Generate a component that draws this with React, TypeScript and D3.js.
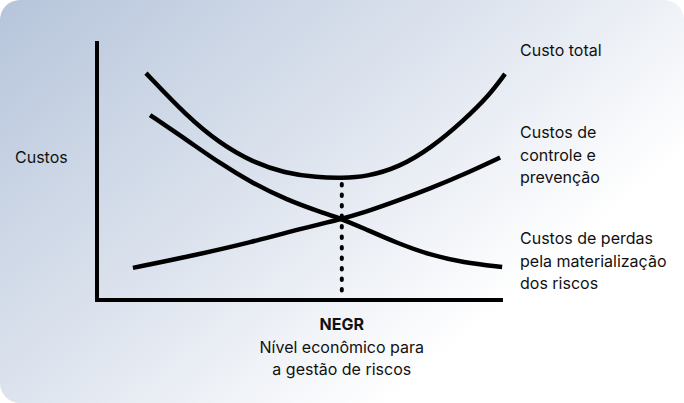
import React, { useEffect, useRef } from 'react';
import * as d3 from 'd3';

// level of risk management effort (0..100) and costs (0..100)
const totalLevels = [12, 22, 30, 38, 46, 54, 60, 66, 74, 82, 90, 96, 100];
const totalCosts = [87.6, 71.0, 60.6, 53.3, 49.0, 47.3, 47.1, 47.6, 51.2, 58.8, 69.5, 78.8, 87.3];

const lossLevels = [13, 22, 30, 38, 46.6, 54.7, 60, 65.2, 73.5, 81.6, 89.7, 99.3];
const lossCosts = [71.4, 61.8, 52.9, 45.2, 38.6, 34.0, 31.3, 27.8, 22.0, 17.4, 14.5, 12.7];

const controlLevels = [8.8, 22, 38.2, 50.5, 60, 65.2, 73.5, 81.6, 89.7, 98.8];
const controlCosts = [12.4, 16.6, 22.4, 27.8, 31.3, 33.6, 38.2, 43.0, 48.3, 55.0];

const optimumLevel = 60;
const optimumTotal = 47.1;

const seriesLabels = [
  { lines: ['Custo total'], y: 56 },
  { lines: ['Custos de', 'controle e', 'prevenção'], y: 138 },
  { lines: ['Custos de perdas', 'pela materialização', 'dos riscos'], y: 244 },
];
const xLabelBold = 'NEGR';
const xLabelLines = ['Nível econômico para', 'a gestão de riscos'];
const yLabel = 'Custos';

const App = () => {
  const svgRef = useRef<SVGSVGElement>(null);

  useEffect(() => {
    document.body.style.margin = '0';
    const width = 684;
    const height = 403;
    const svg = d3.select(svgRef.current).attr('width', width).attr('height', height);
    svg.selectAll('*').remove();

    const font = 'Inter, "Noto Sans", sans-serif';

    // Background gradient card
    const defs = svg.append('defs');
    const grad = defs.append('linearGradient')
      .attr('id', 'bg')
      .attr('x1', '0').attr('y1', '0')
      .attr('x2', '1').attr('y2', '0.7');
    grad.append('stop').attr('offset', '0').attr('stop-color', '#b6c5db');
    grad.append('stop').attr('offset', '0.5').attr('stop-color', '#dfe5ef');
    grad.append('stop').attr('offset', '0.85').attr('stop-color', '#ffffff');

    svg.append('rect')
      .attr('width', width).attr('height', height)
      .attr('rx', 20).attr('ry', 20)
      .attr('fill', 'url(#bg)');

    const x = d3.scaleLinear().domain([0, 100]).range([97, 505]);
    const y = d3.scaleLinear().domain([0, 100]).range([300, 41]);

    const line = d3.line<[number, number]>()
      .x(d => x(d[0]))
      .y(d => y(d[1]))
      .curve(d3.curveBasis);

    const series = [
      d3.zip(totalLevels, totalCosts),
      d3.zip(lossLevels, lossCosts),
      d3.zip(controlLevels, controlCosts),
    ];

    svg.append('g')
      .selectAll('path')
      .data(series)
      .enter()
      .append('path')
      .attr('d', d => line(d as [number, number][]))
      .attr('fill', 'none')
      .attr('stroke', '#000')
      .attr('stroke-width', 4.5);

    // dotted line at optimum
    svg.append('line')
      .attr('x1', x(optimumLevel)).attr('x2', x(optimumLevel))
      .attr('y1', y(optimumTotal) + 6).attr('y2', y(0) - 2)
      .attr('stroke', '#000')
      .attr('stroke-width', 4)
      .attr('stroke-linecap', 'round')
      .attr('stroke-dasharray', '1.5 9');

    // axes
    svg.append('path')
      .attr('d', `M${x(0)},${y(100)} V${y(0)} H${x(99.5)}`)
      .attr('fill', 'none')
      .attr('stroke', '#000')
      .attr('stroke-width', 4)
      .attr('stroke-linejoin', 'miter');

    // series labels
    seriesLabels.forEach(lab => {
      const t = svg.append('text')
        .attr('x', 520)
        .attr('y', lab.y)
        .attr('font-family', font)
        .attr('font-size', 16)
        .attr('fill', '#111');
      lab.lines.forEach((ln, i) => {
        t.append('tspan').attr('x', 520).attr('dy', i === 0 ? 0 : 22.5).text(ln);
      });
    });

    svg.append('text')
      .attr('x', 15).attr('y', 163)
      .attr('font-family', font).attr('font-size', 16).attr('fill', '#111')
      .text(yLabel);

    svg.append('text')
      .attr('x', x(optimumLevel)).attr('y', 330)
      .attr('text-anchor', 'middle')
      .attr('font-family', font).attr('font-size', 16).attr('font-weight', 700).attr('fill', '#111')
      .text(xLabelBold);

    xLabelLines.forEach((ln, i) => {
      svg.append('text')
        .attr('x', x(optimumLevel)).attr('y', 353 + i * 22)
        .attr('text-anchor', 'middle')
        .attr('font-family', font).attr('font-size', 16).attr('fill', '#111')
        .text(ln);
    });
  }, []);

  return <svg ref={svgRef} style={{ display: 'block' }} />;
};

export default App;
